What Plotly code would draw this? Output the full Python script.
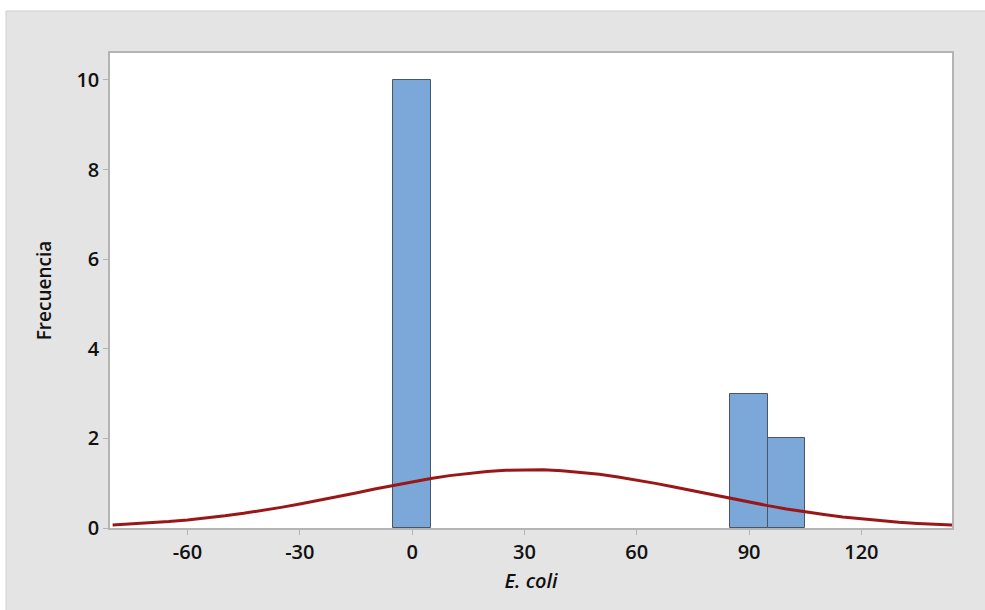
import plotly.graph_objects as go

# Histogram data (bin centres, counts)
bin_centers = [0, 90, 100]
counts = [10, 3, 2]
bin_width = 10

# Fitted normal curve
curve_x = [-80, -75, -70, -65, -60, -55, -50, -45, -40, -35, -30, -25, -20, -15, -10, -5,
           0, 5, 10, 15, 20, 25, 30, 35, 40, 45, 50, 55, 60, 65, 70, 75, 80, 85, 90, 95,
           100, 105, 110, 115, 120, 125, 130, 135, 140, 145]
curve_y = [0.069, 0.090, 0.115, 0.145, 0.181, 0.223, 0.272, 0.328, 0.391, 0.460, 0.535, 0.614,
           0.698, 0.783, 0.869, 0.953, 1.032, 1.105, 1.169, 1.222, 1.263, 1.290, 1.302, 1.298,
           1.279, 1.246, 1.199, 1.140, 1.072, 0.996, 0.914, 0.829, 0.743, 0.658, 0.576, 0.499,
           0.426, 0.360, 0.301, 0.248, 0.203, 0.163, 0.130, 0.102, 0.080, 0.061]

x_ticks = [-60, -30, 0, 30, 60, 90, 120]
y_ticks = [0, 2, 4, 6, 8, 10]

font_family = "Open Sans, Noto Sans, sans-serif"

W, H = 985, 610
L, R, T, B = 110, 33, 53, 82
plot_w = W - L - R
plot_h = H - T - B

fig = go.Figure()
fig.add_trace(go.Bar(
    x=bin_centers, y=counts, width=[bin_width] * len(bin_centers),
    marker=dict(color="#7BA7D9", line=dict(color="#4A5560", width=1)),
    showlegend=False,
))
fig.add_trace(go.Scatter(
    x=curve_x, y=curve_y, mode="lines",
    line=dict(color="#9B1717", width=3),
    showlegend=False,
))

top_gray = (H - B - 11) / plot_h
left_gray = (6 - L) / plot_w
fig.update_layout(
    width=W, height=H,
    margin=dict(l=L, r=R, t=T, b=B),
    paper_bgcolor="#E4E4E4",
    plot_bgcolor="white",
    bargap=0,
    font=dict(family=font_family, color="#111111"),
    shapes=[
        dict(type="rect", xref="paper", yref="paper",
             x0=-0.3, x1=1.3, y0=top_gray, y1=top_gray + 0.2,
             fillcolor="white", line=dict(width=0), layer="below"),
        dict(type="rect", xref="paper", yref="paper",
             x0=-0.3, x1=left_gray, y0=-0.3, y1=top_gray + 0.2,
             fillcolor="white", line=dict(width=0), layer="below"),
        dict(type="line", xref="paper", yref="paper",
             x0=left_gray, x1=1.3, y0=top_gray, y1=top_gray,
             line=dict(color="#D0D0D0", width=1), layer="below"),
        dict(type="line", xref="paper", yref="paper",
             x0=left_gray, x1=left_gray, y0=-0.3, y1=top_gray,
             line=dict(color="#D0D0D0", width=1), layer="below"),
    ],
)
fig.update_xaxes(
    range=[-80.7, 144.2], tickvals=x_ticks, ticktext=[str(v) for v in x_ticks],
    showgrid=False, zeroline=False,
    showline=True, linecolor="#B4B4B4", linewidth=1.5, mirror=True,
    ticks="outside", ticklen=5, tickcolor="#B4B4B4",
    tickfont=dict(size=20, family=font_family, weight=600),
    title=dict(text="<i>E. coli</i>", font=dict(size=20, family=font_family, weight=600), standoff=10),
)
fig.update_yaxes(
    range=[0, 10.6], tickvals=y_ticks, ticktext=[str(v) for v in y_ticks],
    showgrid=False, zeroline=False,
    showline=True, linecolor="#B4B4B4", linewidth=1.5, mirror=True,
    ticks="outside", ticklen=5, tickcolor="#B4B4B4",
    tickfont=dict(size=20, family=font_family, weight=600),
    title=dict(text="Frecuencia", font=dict(size=19, family=font_family, weight=600), standoff=20),
)

fig.write_html("out.html",
               config={"displayModeBar": False},
               post_script="document.body.style.margin='0';document.body.style.overflow='hidden';")
